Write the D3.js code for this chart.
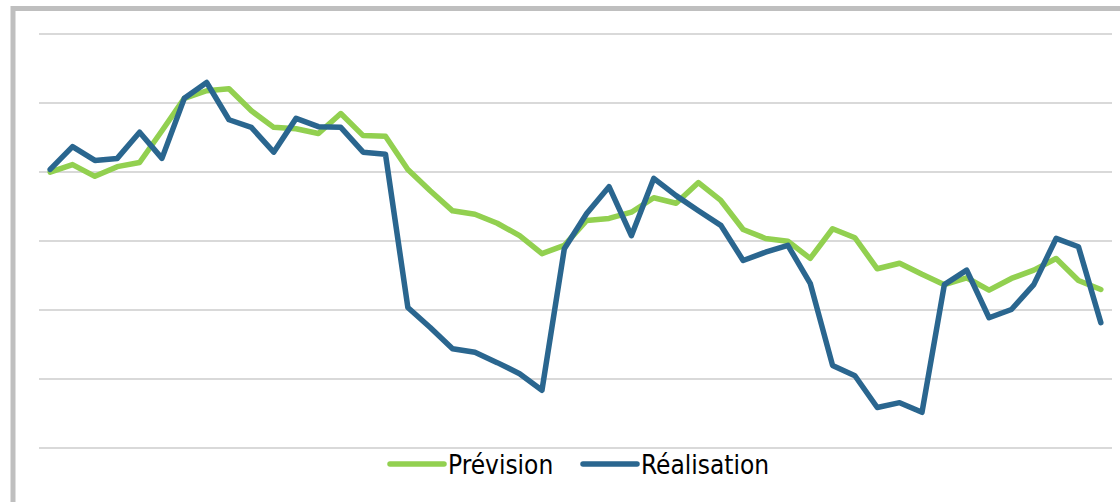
<!DOCTYPE html>
<html>
<head>
<meta charset="utf-8">
<script src="https://cdn.jsdelivr.net/npm/d3@7"></script>
<style>
  html, body { margin: 0; padding: 0; background: #ffffff; }
  svg { display: block; }
</style>
</head>
<body>
<svg id="chart" width="1120" height="502"></svg>
<script>
// ---- Data (arbitrary units, gridlines every 10) ----
const periods = d3.range(1, 49).map(i => "P" + i);
const prevision = [
  39.9, 41.0, 39.3, 40.7, 41.3, 45.9, 50.6, 51.7, 52.0, 48.8,
  46.4, 46.2, 45.5, 48.4, 45.2, 45.1, 40.3, 37.2, 34.3, 33.8,
  32.5, 30.7, 28.1, 29.3, 32.9, 33.2, 34.1, 36.2, 35.4, 38.4,
  35.8, 31.6, 30.3, 29.9, 27.4, 31.7, 30.4, 25.9, 26.7, 25.1,
  23.6, 24.6, 22.8, 24.5, 25.7, 27.4, 24.2, 22.9
];
const realisation = [
  40.3, 43.6, 41.6, 41.9, 45.7, 41.9, 50.6, 52.9, 47.5, 46.4,
  42.8, 47.7, 46.5, 46.4, 42.8, 42.5, 20.3, 17.4, 14.3, 13.8,
  12.3, 10.7, 8.3, 28.8, 33.9, 37.8, 30.7, 39.0, 36.5, 34.3,
  32.2, 27.1, 28.3, 29.3, 23.8, 11.9, 10.4, 5.8, 6.5, 5.1,
  23.6, 25.7, 18.8, 20.0, 23.6, 30.3, 29.1, 18.1
];
const gridTicks = [0, 10, 20, 30, 40, 50, 60];
const seriesNames = ["Prévision", "Réalisation"];
const seriesColors = ["#92d050", "#2a668f"];

// ---- Drawing ----
const svg = d3.select("#chart");

// chart-area border (cropped frame)
svg.append("rect")
  .attr("x", 13).attr("y", 8.5)
  .attr("width", 1200).attr("height", 600)
  .attr("fill", "#ffffff")
  .attr("stroke", "#bfbfbf")
  .attr("stroke-width", 5);

const x = d3.scaleBand().domain(periods).range([39, 1112]);
const y = d3.scaleLinear().domain([0, 60]).range([447.5, 33.5]);

// gridlines via axis
const gAxis = svg.append("g").attr("transform", "translate(1112,0)")
  .call(d3.axisRight(y).tickValues(gridTicks).tickSize(-(1112 - 39)).tickFormat(""));
gAxis.select(".domain").remove();
gAxis.selectAll(".tick line").attr("stroke", "#d9d9d9").attr("stroke-width", 2);

const line = d3.line()
  .x((d, i) => x(periods[i]) + x.bandwidth() / 2)
  .y(d => y(d));

[prevision, realisation].forEach((series, k) => {
  svg.append("path")
    .datum(series)
    .attr("fill", "none")
    .attr("stroke", seriesColors[k])
    .attr("stroke-width", 5.5)
    .attr("stroke-linejoin", "round")
    .attr("stroke-linecap", "round")
    .attr("d", line);
});

// legend
const legendItems = [
  { name: seriesNames[0], color: seriesColors[0], x0: 390 },
  { name: seriesNames[1], color: seriesColors[1], x0: 583 }
];
const lg = svg.append("g");
legendItems.forEach(it => {
  lg.append("line")
    .attr("x1", it.x0).attr("x2", it.x0 + 54)
    .attr("y1", 464).attr("y2", 464)
    .attr("stroke", it.color).attr("stroke-width", 5.5)
    .attr("stroke-linecap", "round");
  lg.append("text")
    .attr("x", it.x0 + 58).attr("y", 474)
    .attr("font-family", "'DejaVu Sans Condensed', 'DejaVu Sans', sans-serif")
    .attr("font-stretch", "condensed")
    .attr("font-size", 26)
    .attr("fill", "#000000")
    .text(it.name);
});
</script>
</body>
</html>
